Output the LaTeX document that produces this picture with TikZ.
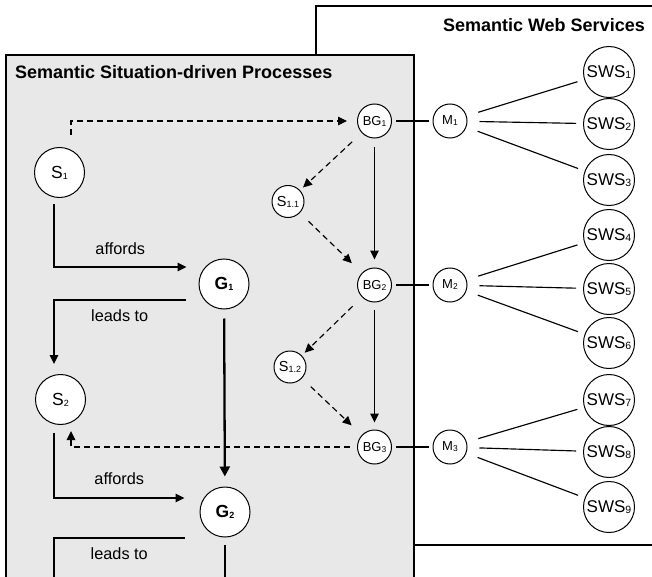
\documentclass[tikz,border=0pt]{standalone}
\usepackage{fontspec}
\setmainfont{Liberation Sans}
\usetikzlibrary{arrows.meta,calc}
\newcommand\ssub[2]{\raisebox{-1pt}{\fontsize{#1}{#1}\selectfont #2}}
\definecolor{panelgrey}{RGB}{232,232,232}
\begin{document}
\begin{tikzpicture}[x=1pt,y=-1pt,
  every node/.style={inner sep=0pt},
  circ/.style={circle,draw,fill=white,line width=1pt,inner sep=0pt},
  bignode/.style={circ,minimum size=50pt,font=\fontsize{17.5}{18}\selectfont},
  goal/.style={circ,minimum size=50pt,font=\fontsize{17.5}{18}\selectfont\bfseries},
  bgnode/.style={circ,minimum size=34pt,font=\fontsize{13}{14}\selectfont},
  subnode/.style={circ,minimum size=32pt,font=\fontsize{14.5}{15}\selectfont},
  medi/.style={circ,minimum size=34pt,font=\fontsize{13}{14}\selectfont},
  sws/.style={circ,minimum size=51pt,font=\fontsize{17}{18}\selectfont},
  conn/.style={line width=1.15pt},
  arr/.style={conn,-{Triangle[length=9pt,width=8.5pt]}},
  darr/.style={arr,dash pattern=on 6pt off 4pt},
  thickarr/.style={line width=2.3pt,-{Triangle[length=10pt,width=10pt]}},
  lbl/.style={font=\fontsize{16.3}{17}\selectfont},
  titlefont/.style={font=\fontsize{18}{19}\selectfont\bfseries},
]
\useasboundingbox (0,0) rectangle (652,577);
\clip (0,0) rectangle (652,577);
\fill[white] (0,0) rectangle (652,577);

% panels
\draw[line width=1.1pt] (316,6) rectangle (700,545);
\draw[line width=1.1pt,fill=panelgrey] (6,55) rectangle (414,640);
\node[titlefont,anchor=east] (swstitle) at (645,25) {Semantic Web Services};
\node[titlefont,anchor=west] (ssptitle) at (15,72) {Semantic Situation-driven Processes};

% left nodes
\node[bignode] (S1) at (59.5,172.5) {S\ssub{9}{1}};
\node[bignode] (S2) at (60.5,399.5) {S\ssub{9}{2}};
\node[goal] (G1) at (224,284) {G\ssub{9}{1}};
\node[goal] (G2) at (225,512) {G\ssub{9}{2}};
\node[subnode] (S11) at (288,201.5) {S\ssub{9}{1.1}};
\node[subnode] (S12) at (290,367) {S\ssub{9}{1.2}};
\node[bgnode] (BG1) at (374.5,121) {BG\ssub{8.5}{1}};
\node[bgnode] (BG2) at (374.5,285) {BG\ssub{8.5}{2}};
\node[bgnode] (BG3) at (374.5,447) {BG\ssub{8.5}{3}};
\node[medi] (M1) at (450,121) {M\ssub{8.5}{1}};
\node[medi] (M2) at (450,285) {M\ssub{8.5}{2}};
\node[medi] (M3) at (450,447) {M\ssub{8.5}{3}};
\foreach \i/\y in {1/72,2/124,3/180,4/235,5/289,6/343,7/400,8/452,9/507}
  \node[sws] (SWS\i) at (609,\y) {SWS\ssub{10.5}{\i}};

\coordinate (g3) at (225,640);
\coordinate (s3) at (54,640);

% left process flow
\draw[darr] ($(S1.north)+(11.5,-12)$) |- ($(BG1.west)+(-10,0)$);
\draw[arr] ($(S1.south)+(-5.5,6)$) |- ($(G1.west)+(-12,-17)$)
  node[lbl,pos=0.75,yshift=18pt] (aff1) {affords};
\draw[arr] ($(G1.west)+(-13,16)$) -| ($(S2.north)+(-6.5,-10)$)
  node[lbl,pos=0.25,yshift=-16pt] (lead1) {leads to};
\draw[thickarr,shorten <=9pt,shorten >=10pt] (G1) -- (G2);
\draw[darr] ($(BG3.west)+(-7,0)$) -| ($(S2.south)+(10.5,6)$);
\draw[arr] ($(S2.south)+(-6.5,8)$) |- ($(G2.west)+(-15,-14)$)
  node[lbl,pos=0.75,yshift=19pt] (aff2) {affords};
\draw[conn] ($(G2.west)+(-15,26)$) -| (s3)
  node[lbl,pos=0.25,yshift=-16pt] (lead2) {leads to};
\draw[line width=2.3pt,shorten <=7pt] (G2) -- (g3);

% behavioural goals
\draw[arr,shorten <=9pt,shorten >=8pt] (BG1) -- (BG2);
\draw[arr,shorten <=7pt,shorten >=7pt] (BG2) -- (BG3);
\draw[darr,shorten <=13pt,shorten >=4pt] (BG1) -- (S11);
\draw[darr,shorten <=12pt,shorten >=14pt] (S11) -- (BG2);
\draw[darr,shorten <=13pt,shorten >=4pt] (BG2) -- (S12);
\draw[darr,shorten <=12pt,shorten >=14pt] (S12) -- (BG3);

% mediators
\foreach \b in {1,2,3}
  \draw[conn,shorten <=4pt,shorten >=4pt] (BG\b) -- (M\b);
\foreach \m/\s in {1/1,1/2,1/3,2/4,2/5,2/6,3/7,3/8,3/9}
  \draw[conn,shorten <=12pt,shorten >=7pt] (M\m) -- (SWS\s);
\end{tikzpicture}
\end{document}
